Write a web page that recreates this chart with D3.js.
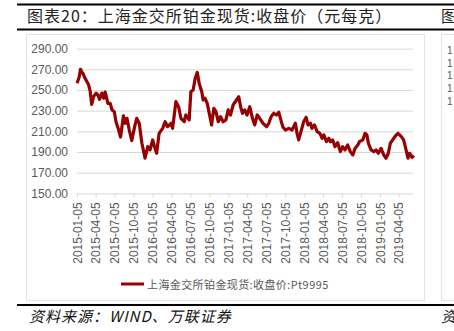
<!DOCTYPE html>
<html><head><meta charset="utf-8">
<script src="https://cdn.jsdelivr.net/npm/d3@7"></script>
<style>body{margin:0;background:#fff}svg{display:block}</style>
</head><body><svg id="c" width="454" height="331"></svg>
<script>
const titleText = "图表20：上海金交所铂金现货:收盘价（元每克）";
const legendLabel = "上海金交所铂金现货:收盘价:Pt9995";
const sourceText = "资料来源：WIND、万联证券";
const yTicks = [150,170,190,210,230,250,270,290];
const xTickLabels = ["2015-01-05","2015-04-05","2015-07-05","2015-10-05","2016-01-05","2016-04-05","2016-07-05","2016-10-05","2017-01-05","2017-04-05","2017-07-05","2017-10-05","2018-01-05","2018-04-05","2018-07-05","2018-10-05","2019-01-05","2019-04-05"];
const dates = ["2015-01-05","2015-01-15","2015-01-22","2015-01-29","2015-02-03","2015-02-11","2015-02-22","2015-03-02","2015-03-10","2015-03-17","2015-03-26","2015-04-07","2015-04-16","2015-04-24","2015-05-05","2015-05-14","2015-05-21","2015-06-03","2015-06-14","2015-06-23","2015-07-04","2015-07-12","2015-07-25","2015-08-03","2015-08-17","2015-08-26","2015-09-03","2015-09-14","2015-09-26","2015-10-10","2015-10-20","2015-11-01","2015-11-14","2015-11-29","2015-12-12","2015-12-23","2016-01-05","2016-01-16","2016-01-24","2016-02-05","2016-02-22","2016-03-05","2016-03-17","2016-04-02","2016-04-10","2016-04-26","2016-05-09","2016-05-20","2016-06-05","2016-06-13","2016-06-29","2016-07-07","2016-07-18","2016-07-28","2016-08-07","2016-08-16","2016-08-29","2016-09-04","2016-09-13","2016-09-24","2016-10-07","2016-10-15","2016-10-26","2016-11-05","2016-11-16","2016-11-27","2016-12-10","2016-12-23","2017-01-03","2017-01-14","2017-01-27","2017-02-12","2017-02-23","2017-03-04","2017-03-13","2017-03-24","2017-04-04","2017-04-17","2017-04-30","2017-05-11","2017-05-23","2017-06-04","2017-06-20","2017-07-07","2017-07-18","2017-07-29","2017-08-11","2017-08-24","2017-09-04","2017-09-12","2017-09-23","2017-10-06","2017-10-22","2017-11-07","2017-11-23","2017-12-01","2017-12-09","2017-12-20","2018-01-02","2018-01-14","2018-01-23","2018-02-04","2018-02-11","2018-02-23","2018-03-08","2018-03-21","2018-04-01","2018-04-09","2018-04-22","2018-05-03","2018-05-11","2018-05-22","2018-06-02","2018-06-15","2018-06-28","2018-07-09","2018-07-20","2018-08-02","2018-08-15","2018-08-27","2018-09-07","2018-09-20","2018-09-28","2018-10-14","2018-10-25","2018-11-03","2018-11-10","2018-11-23","2018-12-06","2018-12-17","2018-12-28","2019-01-10","2019-01-23","2019-02-03","2019-02-14","2019-02-24","2019-03-07","2019-03-22","2019-04-02","2019-04-18","2019-04-29","2019-05-09","2019-05-20","2019-05-28","2019-06-08","2019-06-18"];
const prices = [256.5,262,270,267,266,262,258,255,248.3,236,243.5,247,245,241,247,242,248,237,237,230.7,229,219.3,211.3,204.5,225,217.8,222.6,211.3,201,214.5,222.6,217.8,198.5,184,195.2,192,201.7,193.6,188.8,208.1,212.9,219.3,214.5,217.8,212.9,238.7,233.8,222.6,219.3,225.8,221,248.3,250,261.3,267,256.5,248,240.3,242,237.1,224.2,216.2,232.3,229,219.3,224.2,219.3,221,230.7,225.8,235.5,240.3,243.5,233.8,227.5,230.7,225.8,233.8,222.6,216.2,225.8,222.6,217.8,214.5,217.8,224.2,227.5,225.8,228.4,222.6,214.5,211.3,212.9,211.3,217.8,208.1,201.7,209.7,219.3,223.6,216.2,217.8,212.9,216.2,209.7,208.1,203.3,206.5,200,203.3,200,201.7,195.2,199,190.4,195.2,192,196.8,190.4,187.2,193.6,196.8,200,201.7,208.1,206.5,198.5,192,190.4,192,188.8,193.6,187.2,184,188.8,198.5,201.7,206,208.1,204.9,201.7,193.6,184,188.8,184.9,186.5];

const parse = d3.timeParse("%Y-%m-%d");
const data = dates.map((d,i)=>({date:parse(d), v:prices[i]}));
const svg = d3.select("#c");
const FONT = "'Liberation Sans', Arial, sans-serif";
const CJK = "'Noto Sans CJK SC', 'Noto Sans', sans-serif";

// frame lines
svg.append("rect").attr("x",0).attr("y",0).attr("width",454).attr("height",331).attr("fill","#fff");
svg.append("line").attr("x1",17).attr("x2",454).attr("y1",4.5).attr("y2",4.5).attr("stroke","#000").attr("stroke-width",1.8);
svg.append("line").attr("x1",17).attr("x2",454).attr("y1",29.5).attr("y2",29.5).attr("stroke","#000").attr("stroke-width",2);
svg.append("line").attr("x1",17).attr("x2",454).attr("y1",305).attr("y2",305).attr("stroke","#000").attr("stroke-width",2);
svg.append("text").attr("x",27).attr("y",22).attr("font-family",CJK).attr("font-size",16).attr("letter-spacing","1px").attr("fill","#222").text(titleText);
svg.append("text").attr("x",441).attr("y",22).attr("font-family",CJK).attr("font-size",16).attr("fill","#222").text("图");
svg.append("text").attr("x",29).attr("y",322).attr("font-family",CJK).attr("font-size",15).attr("letter-spacing","1px").attr("font-style","italic").attr("fill","#111").text(sourceText);
svg.append("text").attr("x",441).attr("y",322).attr("font-family",CJK).attr("font-size",15).attr("font-style","italic").attr("fill","#111").text("资");

// chart boxes
svg.append("rect").attr("x",26.5).attr("y",34.5).attr("width",398).attr("height",266).attr("fill","none").attr("stroke","#e3e3e3");
svg.append("rect").attr("x",441.5).attr("y",34.5).attr("width",30).attr("height",266).attr("fill","none").attr("stroke","#e3e3e3");

const x = d3.scaleTime().domain([data[0].date, data[data.length-1].date]).range([77, 414]);
const y = d3.scaleLinear().domain([150, 290]).range([193.4, 48.6]);

const gy = svg.append("g").attr("transform","translate(77,0)")
  .call(d3.axisLeft(y).tickValues(yTicks).tickSize(-336).tickPadding(9).tickFormat(d3.format(".2f")));
gy.select(".domain").remove();
gy.selectAll(".tick line").attr("stroke","#d9d9d9");
gy.selectAll(".tick text").attr("font-family",FONT).attr("font-size",12).attr("fill","#595959");

const gx = svg.append("g").attr("transform","translate(0,193.4)")
  .call(d3.axisBottom(x).tickValues(xTickLabels.map(parse)).tickSize(4).tickFormat(d3.timeFormat("%Y-%m-%d")));
gx.select(".domain").remove();
gx.selectAll(".tick line").attr("stroke","#d9d9d9");
gx.selectAll(".tick text").attr("font-family",FONT).attr("font-size",12).attr("fill","#595959")
  .attr("transform","rotate(-90)").attr("x",-9).attr("y",0).attr("dy","0.35em").style("text-anchor","end");

const line = d3.line().x(d=>x(d.date)).y(d=>y(d.v));
svg.append("path").datum(data).attr("d",line).attr("fill","none").attr("stroke","#960000").attr("stroke-width",3.2).attr("stroke-linejoin","round");

// legend
svg.append("line").attr("x1",121).attr("x2",144).attr("y1",284).attr("y2",284).attr("stroke","#960000").attr("stroke-width",3);
svg.append("text").attr("x",147).attr("y",288.5).attr("font-family",CJK).attr("font-size",11).attr("letter-spacing","0.4px").attr("fill","#595959").text(legendLabel);

// partial neighbour chart tick labels
[50,63,75,88,101].forEach(t=>svg.append("text").attr("x",447).attr("y",t+3.5).attr("font-family",FONT).attr("font-size",10).attr("fill","#595959").text("1"));
</script></body></html>
